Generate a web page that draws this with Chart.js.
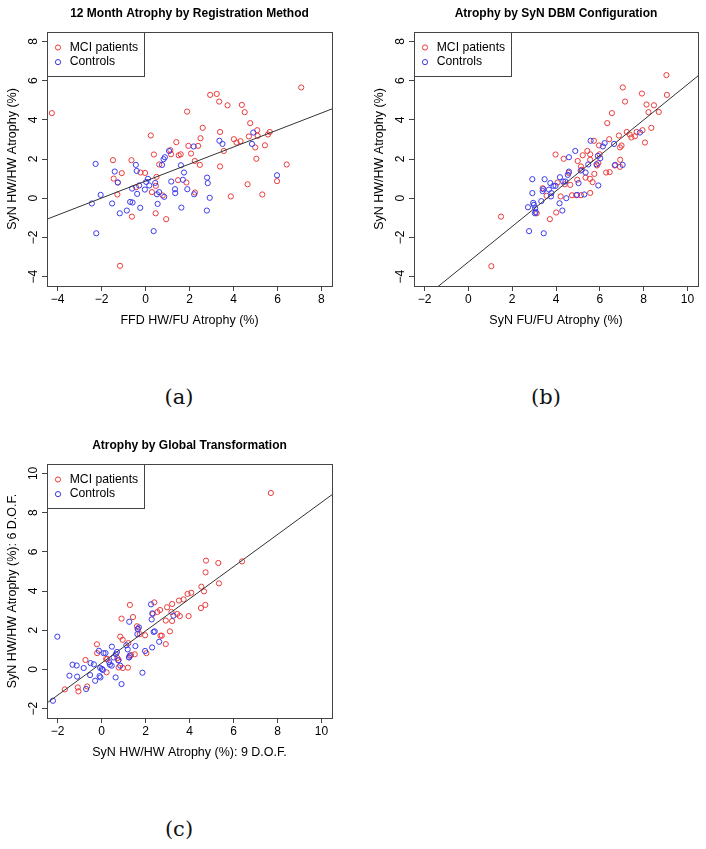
<!DOCTYPE html>
<html>
<head>
<meta charset="utf-8">
<script src="https://cdn.jsdelivr.net/npm/chart.js@4.4.1/dist/chart.umd.min.js"></script>
<style>
html, body { margin:0; padding:0; background:#fff; width:706px; height:849px; overflow:hidden; }
.panel { position:absolute; }
.panel canvas { display:block; }
.cap { position:absolute; font-family:'DejaVu Serif','Liberation Serif',serif; font-size:21px; color:#111; transform:translate(-50%,-50%); white-space:nowrap; }
</style>
</head>
<body>
<div class="panel" style="left:0px;top:0px;"><canvas id="ca" width="340" height="340"></canvas></div>
<div class="panel" style="left:367px;top:0px;"><canvas id="cb" width="339" height="340"></canvas></div>
<div class="panel" style="left:0px;top:432px;"><canvas id="cc" width="340" height="340"></canvas></div>
<div class="cap" style="left:179px;top:397px;">(a)</div>
<div class="cap" style="left:546px;top:397px;">(b)</div>
<div class="cap" style="left:179px;top:829px;">(c)</div>
<script>
// ---------- data ----------
const seriesLabels = ['MCI patients', 'Controls'];

const titles = ['12 Month Atrophy by Registration Method', 'Atrophy by SyN DBM Configuration', 'Atrophy by Global Transformation'];
const xLabels = ['FFD HW/FU Atrophy (%)', 'SyN FU/FU Atrophy (%)', 'SyN HW/HW Atrophy (%): 9 D.O.F.'];
const yLabels = ['SyN HW/HW Atrophy (%)', 'SyN HW/HW Atrophy (%)', 'SyN HW/HW Atrophy (%): 6 D.O.F.'];

const xTicksA = [-4, -2, 0, 2, 4, 6, 8];
const yTicksA = [-4, -2, 0, 2, 4, 6, 8];
const xTicksB = [-2, 0, 2, 4, 6, 8, 10];
const yTicksB = [-4, -2, 0, 2, 4, 6, 8];
const xTicksC = [-2, 0, 2, 4, 6, 8, 10];
const yTicksC = [-2, 0, 2, 4, 6, 8, 10];

// axis limits (R: data limits extended by 4%)
const xLimA = [-4.48, 8.48], yLimA = [-4.48, 8.48];
const xLimB = [-2.48, 10.48], yLimB = [-4.48, 8.48];
const xLimC = [-2.48, 10.48], yLimC = [-2.48, 10.48];

// fitted lines (intercept, slope)
const fitIntercept = [0.875, -3.255, 0.32];
const fitSlope = [0.434, 0.906, 0.820];

// panel (a)
const aMciX = [-4.26,7.08,2.94,3.24,3.35,3.73,4.38,4.51,1.89,2.60,4.76,0.24,3.39,5.08,5.65,5.57,5.10,4.70,2.50,4.02,4.14,4.32,1.40,1.95,2.39,5.43,4.99,1.13,1.16,1.60,1.51,2.07,0.38,3.56,5.04,2.24,-1.48,-0.64,0.62,2.47,3.39,6.42,-1.08,-0.23,-0.02,-1.45,0.50,1.48,1.86,-1.26,0.47,-0.43,4.64,5.98,0.29,2.25,-1.28,0.78,3.88,5.31,0.46,-0.62,0.94,-1.16];
const aMciY = [4.34,5.65,5.27,5.32,4.93,4.74,4.76,4.39,4.42,3.59,3.83,3.20,3.38,3.47,3.38,3.25,3.18,3.15,3.06,3.01,2.84,2.91,2.86,2.67,2.67,2.70,2.59,2.45,2.24,2.24,2.19,2.28,2.23,2.41,2.01,1.90,1.94,1.94,1.72,1.70,1.62,1.72,1.28,1.31,1.29,1.00,1.09,0.92,0.80,0.80,0.63,0.56,0.71,0.87,0.31,0.29,0.19,0.14,0.09,0.19,-0.77,-0.94,-1.07,-3.45];
const aCtlX = [-2.27,-2.04,-2.44,-2.24,-1.40,-1.52,-1.26,-1.17,-0.85,-0.70,-0.59,-0.61,-0.44,-0.40,-0.38,-0.24,-0.29,-0.03,0.03,0.11,0.17,0.44,0.52,0.55,0.62,0.37,0.75,0.82,0.88,0.85,1.07,1.17,1.34,1.35,1.61,1.70,1.75,1.63,1.90,2.19,2.21,2.80,2.83,2.92,2.79,3.36,3.50,4.90,4.84,5.98];
const aCtlY = [1.75,0.17,-0.27,-1.79,1.36,-0.27,0.80,-0.77,-0.63,-0.19,-0.22,0.49,1.70,1.39,0.22,-0.49,0.65,0.44,0.83,0.99,0.65,0.78,0.20,-0.29,0.31,-1.68,1.70,1.99,2.09,0.07,2.41,0.85,0.46,0.26,1.68,0.94,1.31,-0.48,0.46,2.64,0.20,1.05,0.77,0.02,-0.63,2.93,2.77,3.35,2.77,1.17];

// panel (b)
const bMciX = [9.04,9.06,7.05,7.92,7.15,8.13,8.47,8.69,8.22,6.55,6.34,8.35,7.95,7.23,7.36,7.44,7.60,7.68,6.87,6.43,5.73,8.06,6.99,6.92,5.96,5.43,5.99,5.56,5.22,3.98,4.99,4.35,5.56,6.93,5.93,6.68,5.14,5.18,5.87,6.92,6.45,6.29,5.75,5.35,4.58,5.55,4.97,5.67,4.40,4.65,3.57,3.39,4.07,4.21,4.73,4.92,5.14,5.56,4.01,3.12,3.72,1.49,1.05];
const bMciY = [6.28,5.27,5.65,5.34,4.93,4.78,4.74,4.40,4.39,4.34,3.83,3.59,3.47,3.38,3.25,3.10,3.16,3.38,3.20,3.01,2.93,2.84,2.69,2.59,2.69,2.41,2.24,2.24,2.19,2.23,1.90,2.01,1.96,1.96,1.79,1.67,1.62,1.45,1.67,1.60,1.33,1.31,1.24,1.05,1.29,0.99,0.94,0.82,0.71,0.68,0.12,0.51,0.80,0.09,0.15,0.15,0.15,0.27,-0.73,-0.77,-1.07,-0.94,-3.47];
const bCtlX = [7.83,5.58,6.65,6.22,6.14,4.88,4.59,6.02,5.91,5.47,6.70,7.04,5.85,5.13,5.35,4.59,4.54,4.18,4.33,4.43,5.03,2.92,3.48,3.74,3.88,3.98,3.68,3.42,3.39,3.79,2.92,3.77,4.47,4.96,5.29,5.93,3.33,2.96,2.99,2.72,3.05,3.07,3.04,4.16,4.29,2.77,3.44];
const bCtlY = [3.35,2.93,2.77,2.81,2.64,2.41,2.09,2.04,2.16,1.72,1.70,1.70,1.73,1.41,1.31,1.36,1.19,1.07,0.85,0.85,0.77,0.97,0.97,0.77,0.63,0.63,0.44,0.46,0.36,0.26,0.26,0.09,0.00,0.17,0.19,0.65,-0.15,-0.24,-0.34,-0.46,-0.51,-0.70,-0.77,-0.26,-0.63,-1.68,-1.79];

// panel (c)
const cMciX = [7.70,6.39,4.75,5.31,4.73,5.34,4.54,4.66,4.08,3.91,3.73,3.52,3.21,2.40,1.29,2.98,2.66,2.54,2.33,3.18,3.44,3.56,3.96,1.43,0.91,2.92,3.21,4.72,4.52,1.61,1.66,1.74,3.11,2.68,2.74,1.98,0.85,0.96,1.22,2.92,2.04,1.51,1.34,1.25,-0.21,-0.20,0.21,0.26,0.72,0.78,0.78,0.97,1.20,0.23,-0.73,-0.65,-1.08,-1.05,-1.67];
const cMciY = [9.00,5.51,5.55,5.43,4.95,4.39,4.22,3.98,3.91,3.85,3.57,3.51,3.34,3.42,3.29,3.17,3.03,2.93,2.83,2.93,2.83,2.72,2.72,2.67,2.59,2.49,2.47,3.29,3.13,2.20,2.06,1.80,1.94,1.72,1.72,1.74,1.67,1.51,1.34,1.29,0.83,0.77,0.73,0.61,1.28,0.83,0.53,0.53,0.58,0.48,0.10,0.07,0.09,-0.15,0.48,-0.87,-0.92,-1.12,-1.02];
const cCtlX = [-2.01,-2.21,-1.46,-1.32,-1.13,-1.11,-0.81,-0.70,-0.50,-0.35,-0.52,-0.29,-0.12,-0.09,-0.05,-0.06,0.02,0.06,0.09,0.18,0.35,0.38,0.47,0.46,0.55,0.65,0.70,0.64,0.76,0.91,0.85,1.13,1.19,1.26,1.25,1.28,1.54,1.63,1.64,1.70,1.86,1.98,2.25,2.31,2.28,2.30,2.37,2.42,2.62,3.27];
const cCtlY = [1.67,-1.60,-0.32,0.24,0.20,-0.37,0.07,-1.00,0.32,0.26,-0.29,-0.58,0.95,-0.34,-0.41,0.07,0.02,-0.03,0.83,0.83,0.37,0.24,1.16,0.19,0.61,0.78,0.89,-0.41,0.46,-0.75,0.19,1.23,1.02,2.43,0.61,0.70,1.19,1.80,2.06,2.14,-0.17,0.94,3.32,2.86,2.55,1.12,1.91,1.94,1.41,2.74];

// ---------- drawing ----------
const FONT = "'Liberation Sans', Arial, Helvetica, sans-serif";
Chart.defaults.font.family = FONT;
Chart.defaults.font.size = 12;
Chart.defaults.color = '#000';

const colMCI = '#ec3b3b';
const colCtl = '#3b3bec';
const frameCol = '#444';

const fmt = v => (v < 0 ? '\u2212' + Math.abs(v) : String(v));
const toPts = (xs, ys) => xs.map((x, i) => ({ x: x, y: ys[i] }));

const boxLegend = {
  id: 'boxLegend',
  afterDraw(chart) {
    const ctx = chart.ctx, ca = chart.chartArea;
    ctx.save();
    ctx.strokeStyle = frameCol;
    ctx.lineWidth = 1;
    ctx.strokeRect(Math.round(ca.left) + 0.5, Math.round(ca.top) + 0.5, Math.round(ca.right - ca.left), Math.round(ca.bottom - ca.top));
    // legend box
    const lx = Math.round(ca.left) + 0.5, ly = Math.round(ca.top) + 0.5;
    ctx.fillStyle = '#fff';
    ctx.fillRect(lx, ly, 97, 44);
    ctx.strokeRect(lx, ly, 97, 44);
    const items = chart.data.datasets.filter(d => d.inLegend);
    items.forEach((d, i) => {
      const cy = ca.top + 15.5 + i * 14.6;
      ctx.beginPath();
      ctx.arc(ca.left + 11, cy, 2.6, 0, Math.PI * 2);
      ctx.strokeStyle = d.borderColor;
      ctx.lineWidth = 1;
      ctx.stroke();
      ctx.fillStyle = '#000';
      ctx.font = '12.2px ' + FONT;
      ctx.textAlign = 'left';
      ctx.textBaseline = 'middle';
      ctx.fillText(d.label, ca.left + 22.7, cy);
    });
    ctx.restore();
  }
};

function makeChart(id, p) {
  const lineData = p.xLim.map(x => ({ x: x, y: p.a + p.b * x }));
  return new Chart(document.getElementById(id), {
    type: 'scatter',
    data: {
      datasets: [
        { label: seriesLabels[0], data: toPts(p.mx, p.my), borderColor: colMCI, backgroundColor: 'rgba(0,0,0,0)', pointRadius: 2.6, pointHoverRadius: 2.6, pointBorderWidth: 1, inLegend: true, order: 2 },
        { label: seriesLabels[1], data: toPts(p.cx, p.cy), borderColor: colCtl, backgroundColor: 'rgba(0,0,0,0)', pointRadius: 2.6, pointHoverRadius: 2.6, pointBorderWidth: 1, inLegend: true, order: 1 },
        { label: 'fit', data: lineData, showLine: true, pointRadius: 0, borderColor: '#333', borderWidth: 1, order: 0 }
      ]
    },
    options: {
      responsive: false,
      animation: false,
      events: [],
      layout: { padding: { left: 0, right: p.padR, top: 0, bottom: 0 } },
      plugins: {
        legend: { display: false },
        tooltip: { enabled: false },
        title: { display: true, text: p.title, fullSize: false, color: '#000', font: { size: 12, weight: 'bold' }, padding: { top: 6, bottom: 11.6 } }
      },
      scales: {
        x: {
          type: 'linear', position: 'bottom', min: p.xLim[0], max: p.xLim[1],
          afterBuildTicks: s => { s.ticks = p.xt.map(v => ({ value: v })); },
          afterFit: s => { s.height = 54; },
          ticks: { callback: fmt, autoSkip: false, maxRotation: 0, minRotation: 0, padding: 1.8, color: '#000' },
          grid: { drawOnChartArea: false, drawTicks: true, tickLength: 5, color: frameCol },
          border: { display: true, color: frameCol },
          title: { display: true, text: p.xlab, color: '#000', font: { size: 12.5 }, padding: { top: 0, bottom: 12 } }
        },
        y: {
          type: 'linear', position: 'left', min: p.yLim[0], max: p.yLim[1],
          afterBuildTicks: s => { s.ticks = p.yt.map(v => ({ value: v })); },
          afterFit: s => { s.width = 47; },
          ticks: { callback: fmt, autoSkip: false, minRotation: 90, maxRotation: 90, crossAlign: 'center', padding: 1.8, color: '#000' },
          grid: { drawOnChartArea: false, drawTicks: true, tickLength: 5, color: frameCol },
          border: { display: true, color: frameCol },
          title: { display: true, text: p.ylab, color: '#000', font: { size: 12.5 }, padding: { top: 5.3, bottom: 0 } }
        }
      }
    },
    plugins: [boxLegend]
  });
}

makeChart('ca', { title: titles[0], xlab: xLabels[0], ylab: yLabels[0], xt: xTicksA, yt: yTicksA, xLim: xLimA, yLim: yLimA,
  a: fitIntercept[0], b: fitSlope[0], mx: aMciX, my: aMciY, cx: aCtlX, cy: aCtlY, padR: 8 });
makeChart('cb', { title: titles[1], xlab: xLabels[1], ylab: yLabels[1], xt: xTicksB, yt: yTicksB, xLim: xLimB, yLim: yLimB,
  a: fitIntercept[1], b: fitSlope[1], mx: bMciX, my: bMciY, cx: bCtlX, cy: bCtlY, padR: 8 });
makeChart('cc', { title: titles[2], xlab: xLabels[2], ylab: yLabels[2], xt: xTicksC, yt: yTicksC, xLim: xLimC, yLim: yLimC,
  a: fitIntercept[2], b: fitSlope[2], mx: cMciX, my: cMciY, cx: cCtlX, cy: cCtlY, padR: 8 });
</script>
</body>
</html>
